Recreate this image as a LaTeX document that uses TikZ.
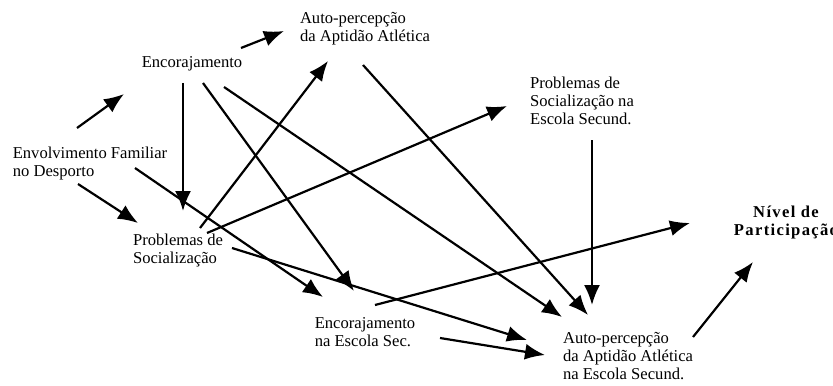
\documentclass[tikz,border=0pt]{standalone}
\usepackage{fontspec}
\setmainfont{Liberation Serif}
\newfontfamily\nivfont[LetterSpace=8]{Liberation Serif}
\usetikzlibrary{arrows.meta}

\begin{document}
\begin{tikzpicture}[x=0.5pt,y=-0.5pt,>={Latex[length=10pt,width=8pt]},line width=1.1pt]
\tikzset{
  lbl/.style={inner sep=0pt,align=left,font=\fontsize{8.3}{9}\selectfont},
  bold/.style={inner sep=0pt,align=center,font=\nivfont\bfseries\fontsize{8.3}{9}\selectfont}
}
\useasboundingbox (0,0) rectangle (833,385);
% variables
\node[lbl] (enc)  at (192,64)  {Encorajamento};
\node[lbl] (apa)  at (365,29)  {Auto-percepção\\da Aptidão Atlética};
\node[lbl] (env)  at (90,164)  {Envolvimento Familiar\\no Desporto};
\node[lbl] (ps)   at (178,251) {Problemas de\\Socialização};
\node[lbl] (pse)  at (582,101) {Problemas de\\Socialização na\\Escola Secund.};
\node[lbl] (ees)  at (365,332) {Encorajamento\\na Escola Sec.};
\node[lbl] (apae) at (628,356) {Auto-percepção\\da Aptidão Atlética\\na Escola Secund.};
\node[bold] (niv) at (786,222) {Nível de\\Participação};
% paths
\draw[->] ([shift={(-13,-36)}]env.center) -- ([shift={(-68,30)}]enc.center);
\draw[->] ([shift={(-12,20)}]env.center) -- ([shift={(-40,-28)}]ps.center);
\draw[->] ([shift={(45,4)}]env.center) -- ([shift={(-42,-35)}]ees.center);
\draw[->] ([shift={(49,-16)}]enc.center) -- ([shift={(-81,2)}]apa.center);
\draw[->] ([shift={(-9,19)}]enc.center) -- ([shift={(5,-40)}]ps.center);
\draw[->] ([shift={(11,19)}]enc.center) -- ([shift={(-11,-41)}]ees.center);
\draw[->] ([shift={(32,23)}]enc.center) -- ([shift={(-66,-39)}]apae.center);
\draw[->] ([shift={(22,-23)}]ps.center) -- ([shift={(-37,32)}]apa.center);
\draw[->] ([shift={(29,-18)}]ps.center) -- ([shift={(-75,5)}]pse.center);
\draw[->] ([shift={(54,-3)}]ps.center) -- ([shift={(-101,-16)}]apae.center);
\draw[->] ([shift={(-2,36)}]apa.center) -- ([shift={(-40,-41)}]apae.center);
\draw[->] ([shift={(10,39)}]pse.center) -- ([shift={(-36,-51)}]apae.center);
\draw[->] ([shift={(10,-27)}]ees.center) -- ([shift={(-96,1)}]niv.center);
\draw[->] ([shift={(75,6)}]ees.center) -- ([shift={(-83,-1)}]apae.center);
\draw[->] ([shift={(65,-19)}]apae.center) -- ([shift={(-33,40)}]niv.center);
\end{tikzpicture}
\end{document}
